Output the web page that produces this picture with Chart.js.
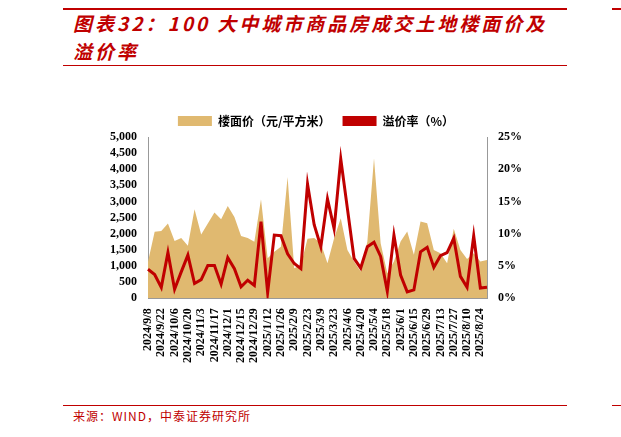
<!DOCTYPE html>
<html><head><meta charset="utf-8">
<script src="https://cdn.jsdelivr.net/npm/chart.js@4/dist/chart.umd.min.js"></script>
<style>
body{margin:0;background:#fff;width:621px;height:437px;position:relative;overflow:hidden;font-family:"Noto Sans CJK SC",sans-serif}
.ln{position:absolute;height:2px;background:#c00000}
#titulo{position:absolute;left:73px;top:9px;width:480px;color:#c00000;font-weight:bold;font-style:italic;font-size:19px;line-height:28px;letter-spacing:3px}
#fuente{position:absolute;left:73px;top:407px;color:#c00000;font-size:12px;letter-spacing:1px}
#caja{position:absolute;left:63px;top:95px;width:504px;height:290px}
</style></head><body>
<div class="ln" style="left:63px;top:8px;width:504px"></div>
<div class="ln" style="left:612px;top:8px;width:9px"></div>
<div id="titulo">图表32：100 大中城市商品房成交土地楼面价及溢价率</div>
<div class="ln" style="left:63px;top:65px;width:504px;height:1px"></div>
<div class="ln" style="left:63px;top:405px;width:504px;height:1px"></div>
<div class="ln" style="left:612px;top:405px;width:9px;height:1px"></div>
<div id="fuente">来源：WIND，中泰证券研究所</div>
<div id="caja"><canvas id="grafica"></canvas></div>
<script>
// fechas semanales
const fechas = ["2024/9/8","2024/9/15","2024/9/22","2024/9/29","2024/10/6","2024/10/13","2024/10/20","2024/10/27","2024/11/3","2024/11/10","2024/11/17","2024/11/24","2024/12/1","2024/12/8","2024/12/15","2024/12/22","2024/12/29","2025/1/5","2025/1/12","2025/1/19","2025/1/26","2025/2/2","2025/2/9","2025/2/16","2025/2/23","2025/3/2","2025/3/9","2025/3/16","2025/3/23","2025/3/30","2025/4/6","2025/4/13","2025/4/20","2025/4/27","2025/5/4","2025/5/11","2025/5/18","2025/5/25","2025/6/1","2025/6/8","2025/6/15","2025/6/22","2025/6/29","2025/7/6","2025/7/13","2025/7/20","2025/7/27","2025/8/3","2025/8/10","2025/8/17","2025/8/24","2025/8/31"];
// 楼面价（元/平方米）
const precioSuelo = [1130,2060,2090,2320,1780,1870,1630,2760,1980,2320,2660,2450,2860,2520,1930,1870,1750,3070,1240,1440,1600,3760,930,1030,1850,1870,1710,1090,1860,2480,1500,1140,830,1760,4340,1710,780,1140,1760,2070,1350,2380,2330,1500,1400,1090,2160,1500,1220,1400,1140,1190];
// 溢价率（%）
const tasaPrima = [4.5,3.7,1.7,7.1,1.4,4.1,6.7,2.3,2.9,5.1,5.1,2.2,6.3,4.6,1.8,2.8,2.0,11.9,0.9,9.8,9.7,6.9,5.4,4.6,17.7,11.4,8.0,15.4,10.8,21.6,13.9,6.2,4.7,8.0,8.7,6.5,1.1,9.8,3.6,1.0,1.3,7.2,7.9,4.8,6.6,7.1,9.3,3.4,1.7,9.7,1.6,1.7];

const fuenteEje = {family:"'Times New Roman','Liberation Serif',serif", size:12, weight:"bold"};

new Chart(document.getElementById("grafica"), {
    data: {
        labels: fechas,
        datasets: [{
            type: "line",
            label: "楼面价（元/平方米）",
            data: precioSuelo,
            yAxisID: "y",
            fill: "origin",
            backgroundColor: "#e0b970",
            borderColor: "#e0b970",
            borderWidth: 0,
            pointRadius: 0,
            tension: 0,
            order: 1
        }, {
            type: "line",
            label: "溢价率（%）",
            data: tasaPrima,
            yAxisID: "y1",
            borderColor: "#c00000",
            borderWidth: 3,
            pointRadius: 0,
            tension: 0,
            order: 0
        }]
    },
    options: {
        responsive: true,
        maintainAspectRatio: false,
        animation: false,
        layout: {padding: {left: 44, right: 42, top: 8, bottom: 20}},
        plugins: {
            legend: {
                labels: {
                    boxWidth: 34, boxHeight: 10, padding: 12,
                    font: {family: "'Noto Sans CJK SC'", size: 12, weight: "bold"}, color: "#000",
                    generateLabels: (chart) => chart.data.datasets.map((ds, i) => ({
                        text: ds.label,
                        fillStyle: i === 0 ? "#e0b970" : "#c00000",
                        strokeStyle: i === 0 ? "#e0b970" : "#c00000",
                        lineWidth: 0,
                        datasetIndex: i,
                        hidden: false
                    }))
                }
            },
            tooltip: {enabled: false}
        },
        scales: {
            x: {
                offset: false,
                grid: {display: false},
                border: {color: "#999"},
                ticks: {
                    autoSkip: false, maxRotation: 90, minRotation: 90, color: "#000", font: fuenteEje, padding: 2,
                    callback: function (v, i) { return i % 2 === 0 ? fechas[i] : ""; }
                }
            },
            y: {
                min: 0, max: 5000,
                ticks: {stepSize: 500, autoSkip: false, color: "#000", font: fuenteEje, callback: v => v.toLocaleString("en-US")},
                grid: {display: false},
                border: {color: "#999"}
            },
            y1: {
                position: "right",
                min: 0, max: 25,
                ticks: {stepSize: 5, autoSkip: false, color: "#000", font: fuenteEje, callback: v => v + "%"},
                grid: {display: false},
                border: {color: "#999"}
            }
        }
    }
});
</script>
</body></html>
